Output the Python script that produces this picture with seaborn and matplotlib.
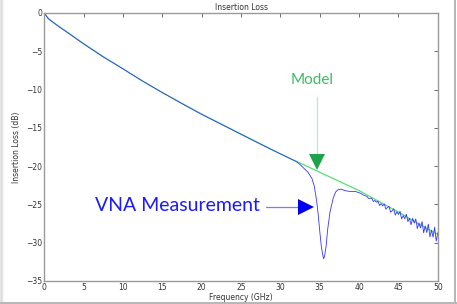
import numpy as np
import pandas as pd
import matplotlib
matplotlib.use("Agg")
import matplotlib.pyplot as plt
from matplotlib.patches import Rectangle
import seaborn as sns

# Model curve (GHz, dB)
model_freq = [0, 0.5, 1, 2, 3, 5, 7.5, 10, 12.5, 15, 17.5, 20, 22.5, 25, 27.5,
              30, 32.5, 35, 37.5, 40, 42.5, 45, 47.5, 50]
model_db = [0, -0.7, -1.1, -1.85, -2.55, -4.0, -5.7, -7.3, -8.9, -10.4, -11.8,
            -13.2, -14.5, -15.8, -17.1, -18.4, -19.6, -20.8, -22.0, -23.2,
            -24.6, -26.0, -27.5, -28.9]

# VNA measurement (GHz, dB), incl. the resonance dip and the noisy top end
meas_freq = [0, 0.5, 1, 2, 3, 5, 7.5, 10, 12.5, 15, 17.5, 20, 22.5, 25, 27.5,
             30, 31, 32, 32.5, 33, 33.5, 34, 34.3, 34.6, 34.8, 35.0, 35.2,
             35.4, 35.5, 35.6, 35.8, 36.0, 36.3, 36.7, 37.0, 37.3, 37.7,
             38.2, 38.8, 39.5, 40.2, 40.6,
             41.0, 41.2, 41.4, 41.6, 41.8, 42.0, 42.2, 42.4, 42.6, 42.8,
             43.0, 43.2, 43.4, 43.6, 43.8, 44.0, 44.2, 44.4, 44.6, 44.8,
             45.0, 45.2, 45.4, 45.6, 45.8, 46.0, 46.2, 46.4, 46.6, 46.8,
             47.0, 47.2, 47.4, 47.6, 47.8, 48.0, 48.2, 48.4, 48.6, 48.8,
             49.0, 49.2, 49.4, 49.6, 49.8, 50.0]
meas_db = [0, -0.75, -1.15, -1.9, -2.6, -4.05, -5.75, -7.3, -8.9, -10.4,
           -11.85, -13.25, -14.55, -15.85, -17.15, -18.4, -18.9, -19.4,
           -19.8, -20.3, -20.8, -21.6, -22.6, -24.5, -26.3, -28.5, -30.5,
           -31.7, -32.1, -31.8, -30.5, -28.3, -26.0, -24.2, -23.4, -23.1,
           -23.0, -23.2, -23.3, -23.3, -23.55, -23.8,
           -23.95, -24.23, -24.20, -24.18, -24.62, -24.48, -24.72, -24.58,
           -25.14, -24.90, -25.19, -24.94, -25.63, -25.39, -25.26, -26.02,
           -25.83, -25.57, -26.40, -25.96, -26.32, -25.91, -26.89, -26.46,
           -26.87, -26.28, -27.24, -26.80, -27.66, -26.82, -27.43, -26.89,
           -28.16, -27.42, -28.08, -27.24, -28.70, -27.81, -28.67, -27.58,
           -29.24, -28.36, -29.27, -27.98, -29.79, -28.70]

x_ticks = [0, 5, 10, 15, 20, 25, 30, 35, 40, 45, 50]
y_ticks = [0, -5, -10, -15, -20, -25, -30, -35]

model_df = pd.DataFrame({"freq": model_freq, "db": model_db})
meas_df = pd.DataFrame({"freq": meas_freq, "db": meas_db})

sns.set_style("white")
plt.rcParams["font.family"] = ["DejaVu Sans"]

fig = plt.figure(figsize=(4.57, 3.04), dpi=100)
ax = fig.add_axes([0.097, 0.0757, 0.861, 0.8816])

sns.lineplot(data=model_df, x="freq", y="db", color="#55e070", lw=0.9,
             estimator=None, sort=False, ax=ax)
sns.lineplot(data=meas_df, x="freq", y="db", color="#3535ff", lw=0.6,
             estimator=None, sort=False, ax=ax)

ax.set_xlim(0, 50)
ax.set_ylim(-35, 0)
ax.set_xticks(x_ticks)
ax.set_yticks(y_ticks)
ax.tick_params(direction="in", length=3, width=0.6, color="#555555",
               labelsize=5.5, labelcolor="#333333", top=True, right=True,
               pad=1.5)
for s in ax.spines.values():
    s.set_color("#9a9a9a")
    s.set_linewidth(1.0)

ax.set_title("Insertion Loss", fontsize=5.5, color="#333333", pad=2)
ax.set_xlabel("Frequency (GHz)", fontsize=5.5, color="#333333", labelpad=0.5)
ax.set_ylabel("Insertion Loss (dB)", fontsize=5.5, color="#333333", labelpad=4)

# annotations
ax.text(34.0, -8.75, "Model", color="#3cbb62", fontsize=11, family="Lato",
        ha="center", va="center")
ax.plot([34.6, 34.6], [-10.97, -18.6], color="#b5ecc6", lw=0.9)
ax.plot(34.6, -19.5, marker="v", markersize=11.5, color="#1ea24c",
        markeredgewidth=0)

ax.text(6.5, -25.2, "VNA Measurement", color="#1a1aff", fontsize=14,
        family="Lato", ha="left", va="center")
ax.plot([28.2, 32.4], [-25.3, -25.3], color="#7a7aff", lw=0.9)
ax.plot(33.2, -25.3, marker=">", markersize=11.5, color="#0000f0",
        markeredgewidth=0)

# screenshot frame / shadow
W, H = 457, 304
for i, c in enumerate(["#e6e6e6", "#dcdcdc", "#e8e8e8", "#f4f4f4"]):
    fig.add_artist(Rectangle((i / W, 0), 1 / W, 1, transform=fig.transFigure,
                             color=c, lw=0))
fig.add_artist(Rectangle((454 / W, 0), 2 / W, 1, transform=fig.transFigure,
                         color="#b8b8b8", lw=0))
fig.add_artist(Rectangle((0, 0), 1, 2 / H, transform=fig.transFigure,
                         color="#b8b8b8", lw=0))

fig.savefig("out.png", dpi=100)
